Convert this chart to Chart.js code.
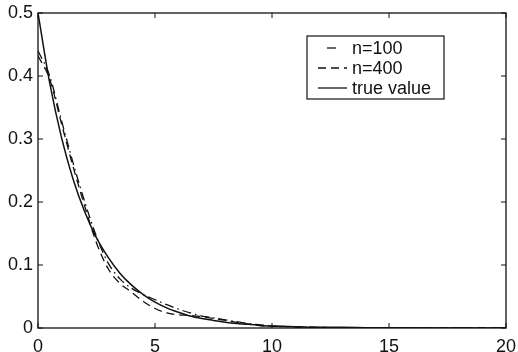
<!DOCTYPE html>
<html>
<head>
<meta charset="utf-8">
<script src="https://cdn.jsdelivr.net/npm/chart.js@4.4.0/dist/chart.umd.min.js"></script>
<style>
  html, body { margin: 0; padding: 0; background: #fff; }
  #wrap { position: relative; width: 518px; height: 352px; }
</style>
</head>
<body>
<div id="wrap"><canvas id="c" width="518" height="352"></canvas></div>
<script>
const xVals = [0, 0.5, 1, 1.5, 2, 2.5, 3, 3.5, 4, 4.5, 5, 5.5, 6, 6.5, 7, 7.5, 8, 8.5, 9, 9.5, 10, 11, 12, 13, 14, 15, 16, 17, 18, 19, 20]
const n100 = [0.440, 0.400, 0.330, 0.262, 0.200, 0.145, 0.103, 0.078, 0.063, 0.053, 0.045, 0.037, 0.030, 0.024, 0.019, 0.016, 0.013, 0.010, 0.007, 0.005, 0.003, 0.002, 0.001, 0.0005, 0, 0, 0, 0, 0, 0, 0]
const n400 = [0.432, 0.395, 0.325, 0.256, 0.193, 0.135, 0.094, 0.071, 0.057, 0.042, 0.031, 0.024, 0.021, 0.020, 0.018, 0.015, 0.012, 0.009, 0.006, 0.004, 0.003, 0.002, 0.001, 0.0005, 0, 0, 0, 0, 0, 0, 0]
const trueValue = [0.500, 0.389, 0.303, 0.236, 0.184, 0.143, 0.112, 0.087, 0.068, 0.053, 0.041, 0.032, 0.025, 0.019, 0.015, 0.012, 0.009, 0.007, 0.006, 0.004, 0.003, 0.002, 0.001, 0.001, 0.0005, 0.0003, 0.0002, 0.0001, 0.0001, 0, 0]
const seriesNames = ['n=100', 'n=400', 'true value']
const xTicks = [0, 5, 10, 15, 20]
const yTicks = [0, 0.1, 0.2, 0.3, 0.4, 0.5]

const ink = '#111'
const dashes = [[9, 4, 1.5, 4], [8, 5], []]

function pts(ys) { return xVals.map((x, i) => ({ x: x, y: ys[i] })) }

// matlab style box with inward ticks on all four sides
const frame = {
  id: 'frame',
  afterDraw(chart) {
    const { ctx, chartArea: a, scales } = chart
    ctx.save()
    ctx.strokeStyle = ink
    ctx.lineWidth = 1.3
    ctx.strokeRect(a.left, a.top, a.right - a.left, a.bottom - a.top)
    ctx.lineWidth = 1
    ctx.beginPath()
    xTicks.forEach(v => {
      const px = scales.x.getPixelForValue(v)
      ctx.moveTo(px, a.bottom); ctx.lineTo(px, a.bottom - 5)
      ctx.moveTo(px, a.top); ctx.lineTo(px, a.top + 5)
    })
    yTicks.forEach(v => {
      const py = scales.y.getPixelForValue(v)
      ctx.moveTo(a.left, py); ctx.lineTo(a.left + 5, py)
      ctx.moveTo(a.right, py); ctx.lineTo(a.right - 5, py)
    })
    ctx.stroke()

    // legend box
    const bx = 307, by = 36, bw = 137, bh = 63
    ctx.fillStyle = '#fff'
    ctx.fillRect(bx, by, bw, bh)
    ctx.lineWidth = 1.2
    ctx.strokeRect(bx, by, bw, bh)
    ctx.font = '18px "Liberation Sans", Arial, sans-serif'
    ctx.textBaseline = 'middle'
    ctx.fillStyle = ink
    seriesNames.forEach((name, i) => {
      const y = by + 12 + i * 20
      ctx.beginPath()
      ctx.setLineDash(i === 0 ? [] : dashes[i])
      ctx.lineWidth = 1.3
      if (i === 0) { ctx.moveTo(327, y); ctx.lineTo(336, y) }
      else { ctx.moveTo(318, y); ctx.lineTo(347, y) }
      ctx.stroke()
      ctx.setLineDash([])
      ctx.fillText(name, 352, y + 1)
    })
    ctx.restore()
  }
}

new Chart(document.getElementById('c'), {
  type: 'line',
  data: {
    datasets: [n100, n400, trueValue].map((ys, i) => ({
      label: seriesNames[i],
      data: pts(ys),
      borderColor: ink,
      borderWidth: i === 2 ? 1.5 : 1.3,
      borderDash: dashes[i],
      pointRadius: 0,
      fill: false,
      cubicInterpolationMode: 'monotone'
    }))
  },
  options: {
    responsive: false,
    animation: false,
    devicePixelRatio: 1,
    layout: { autoPadding: false, padding: { top: 13, right: 12, left: 0, bottom: 0 } },
    plugins: { legend: { display: false }, tooltip: { enabled: false } },
    scales: {
      x: {
        type: 'linear', min: 0, max: 20,
        grid: { display: false, drawTicks: false },
        border: { display: false },
        afterFit(s) { s.height = 24; s.paddingLeft = 0; s.paddingRight = 0 },
        afterBuildTicks(s) { s.ticks = xTicks.map(v => ({ value: v })) },
        ticks: { color: ink, padding: 8, maxRotation: 0, autoSkip: false, font: { size: 18, family: '"Liberation Sans", Arial, sans-serif' } }
      },
      y: {
        min: 0, max: 0.5,
        grid: { display: false, drawTicks: false },
        border: { display: false },
        afterFit(s) { s.width = 38; s.paddingTop = 0; s.paddingBottom = 0 },
        afterBuildTicks(s) { s.ticks = yTicks.map(v => ({ value: v })) },
        ticks: { color: ink, padding: 5, autoSkip: false, font: { size: 18, family: '"Liberation Sans", Arial, sans-serif' } }
      }
    }
  },
  plugins: [frame]
})
</script>
</body>
</html>
